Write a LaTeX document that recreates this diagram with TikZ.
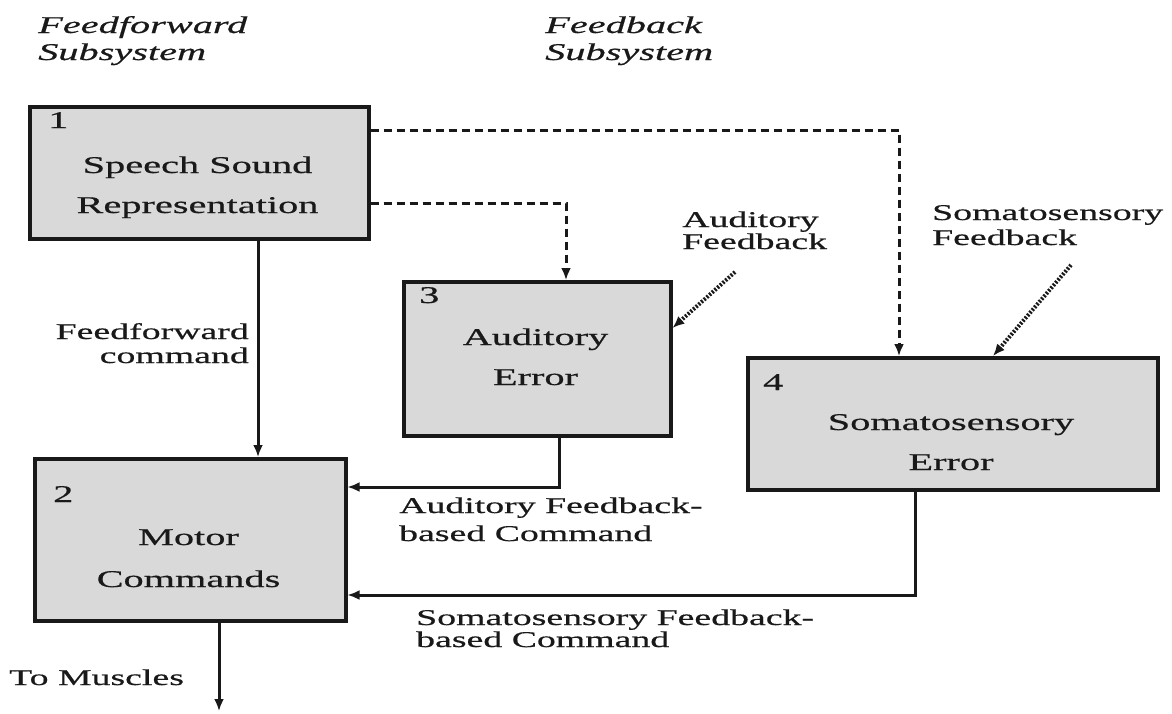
\documentclass[tikz,border=0pt]{standalone}
\usepackage{fontspec}
\setmainfont{Liberation Serif}[FakeStretch=1.68,FakeBold=0.6]
\usetikzlibrary{arrows.meta}
\definecolor{boxgray}{RGB}{217,217,217}
\definecolor{ink}{RGB}{25,25,25}
\begin{document}
\begin{tikzpicture}[x=1pt,y=-1pt,
  blk/.style={draw=ink,line width=3.5pt,fill=boxgray,inner sep=0pt,anchor=north west},
  lbl/.style={inner sep=0pt,anchor=base west,text=ink,font=\fontsize{22.5}{26}\selectfont},
  rlbl/.style={lbl,anchor=base east},
  hdr/.style={lbl,font=\fontsize{24}{27}\selectfont\itshape},
  btxt/.style={inner sep=0pt,anchor=base,text=ink,font=\fontsize{24}{28}\selectfont},
  num/.style={inner sep=0pt,anchor=base west,text=ink,font=\fontsize{24}{28}\selectfont},
  conn/.style={draw=ink,line width=3pt,-{Latex[length=12pt,width=10pt]}},
  dconn/.style={conn,dash pattern=on 8pt off 5pt},
  fbconn/.style={conn,line width=4pt,dash pattern=on 2pt off 1.6pt},
]
\useasboundingbox (0,0) rectangle (1172,713);

% headers
\node[hdr] (h1a) at (38,33) {Feedforward};
\node[hdr] (h1b) at (38,60) {Subsystem};
\node[hdr] (h2a) at (545,33) {Feedback};
\node[hdr] (h2b) at (545,60) {Subsystem};

% boxes
\node[blk,minimum width=339pt,minimum height=132pt] (b1) at (28,105) {};
\node[blk,minimum width=267pt,minimum height=154pt] (b3) at (402,280) {};
\node[blk,minimum width=410pt,minimum height=132pt] (b4) at (746,356) {};
\node[blk,minimum width=311pt,minimum height=162pt] (b2) at (33,457) {};

% box numbers
\node[num] (n1) at (48,128) {1};
\node[num] (n3) at (419,303) {3};
\node[num] (n4) at (763,390) {4};
\node[num] (n2) at (53,502) {2};

% box texts
\node[btxt] (t1a) at (197.5,173) {Speech Sound};
\node[btxt] (t1b) at (197.5,213) {Representation};
\node[btxt] (t3a) at (535.5,345) {Auditory};
\node[btxt] (t3b) at (535.5,385) {Error};
\node[btxt] (t4a) at (951,430) {Somatosensory};
\node[btxt] (t4b) at (951,470) {Error};
\node[btxt] (t2a) at (188.5,545) {Motor};
\node[btxt] (t2b) at (188.5,587) {Commands};

% helper coordinates
\coordinate (d1) at (899,130);
\coordinate (d2) at (566,203);
\coordinate (ffx) at (258,0);
\coordinate (a1) at (559,487);
\coordinate (s1) at (915,595);
\coordinate (mus) at (219,711);
\coordinate (afs) at (735,272);
\coordinate (afy) at (0,328);
\coordinate (sfs) at (1071,265);
\coordinate (sfx) at (993,0);

% connectors
\draw[dconn] (b1.east |- d1) -| (b4.north -| d1);
\draw[dconn] (b1.east |- d2) -| (b3.north -| d2);
\draw[conn] (b1.south -| ffx) -- (b2.north -| ffx);
\draw[conn] (b3.south -| a1) |- (b2.east |- a1);
\draw[conn] (b4.south -| s1) |- (b2.east |- s1);
\draw[conn] (b2.south -| mus) -- (mus);
\draw[fbconn] (afs) -- (b3.east |- afy);
\draw[fbconn] (sfs) -- (b4.north -| sfx);

% connector labels
\node[rlbl] (lff1) at (249,339) {Feedforward};
\node[rlbl] (lff2) at (249,363) {command};
\node[lbl] (laf1) at (682,227) {Auditory};
\node[lbl] (laf2) at (682,249) {Feedback};
\node[lbl] (lsf1) at (932,220) {Somatosensory};
\node[lbl] (lsf2) at (932,245) {Feedback};
\node[lbl] (lac1) at (399,513) {Auditory Feedback-};
\node[lbl] (lac2) at (399,541) {based Command};
\node[lbl] (lsc1) at (416,625) {Somatosensory Feedback-};
\node[lbl] (lsc2) at (416,647) {based Command};
\node[lbl] (lmu) at (9,685) {To Muscles};
\end{tikzpicture}
\end{document}
